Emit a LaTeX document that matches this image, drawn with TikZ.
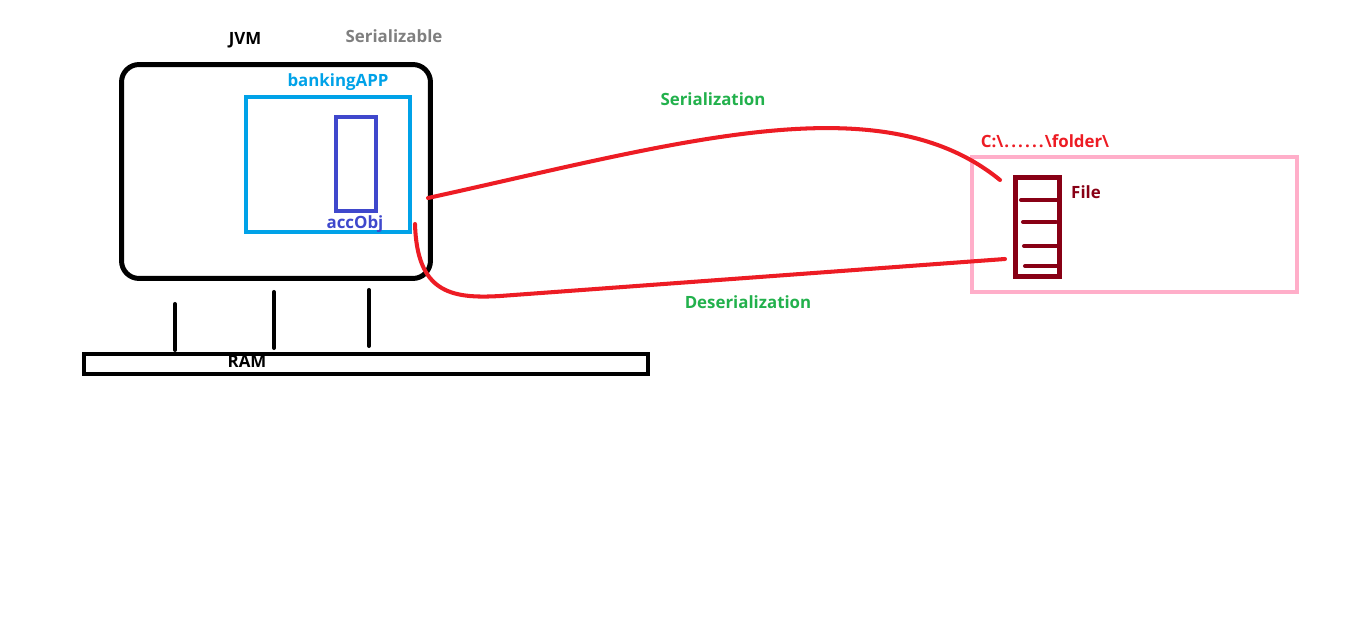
\documentclass[tikz,border=0pt]{standalone}
\usepackage{fontspec}
\setmainfont{Open Sans}
\begin{document}
\begin{tikzpicture}[x=0.02cm,y=-0.02cm,
  lbl/.style={font=\bfseries\fontsize{9.6}{11}\selectfont, inner sep=0pt},
  box/.style={draw, inner sep=0pt, line width=2.3pt},
  redline/.style={draw=cRed, line width=2.3pt, line cap=round},
  leg/.style={line width=2.3pt, line cap=round}]
\definecolor{cRed}{HTML}{ED1C24}
\definecolor{cGreen}{HTML}{22B14C}
\definecolor{cGray}{HTML}{7F7F7F}
\definecolor{cBlue}{HTML}{00A2E8}
\definecolor{cIndigo}{HTML}{3F48CC}
\definecolor{cDark}{HTML}{880015}
\definecolor{cPink}{HTML}{FFAEC9}
\useasboundingbox[fill=white] (0,0) rectangle (1360,628);
% boxes
\node[box, line width=2.83pt, rounded corners=10pt, minimum width=6.18cm, minimum height=4.28cm] (jvm) at (276,171.5) {};
\node[box, draw=cBlue, minimum width=3.28cm, minimum height=2.7cm] (app) at (328,164.5) {};
\node[box, draw=cIndigo, minimum width=0.8cm, minimum height=1.88cm] (obj) at (356,164) {};
\node[box, minimum width=11.28cm, minimum height=0.4cm] (ram) at (366,364) {};
\node[box, draw=cPink, minimum width=6.5cm, minimum height=2.7cm] (folder) at (1134.5,224.5) {};
\node[box, draw=cDark, line width=2.83pt, minimum width=0.88cm, minimum height=1.98cm] (file) at (1037.5,227) {};
% file lines
\foreach \y/\a/\b [count=\i] in {200/1021/1058, 222/1023/1056, 246/1024/1058, 266/1025/1057}{
  \coordinate (fl\i a) at (\a,\y);
  \coordinate (fl\i b) at (\b,\y);
  \draw[cDark, line width=2.3pt, line cap=round] (fl\i a) -- (fl\i b);
}
% legs
\coordinate (l1t) at (175,304); \coordinate (l1b) at (175,350);
\coordinate (l2t) at (274,292); \coordinate (l2b) at (274,348);
\coordinate (l3t) at (369,290); \coordinate (l3b) at (369,346);
\draw[leg] (l1t) -- (l1b);
\draw[leg] (l2t) -- (l2b);
\draw[leg] (l3t) -- (l3b);
% curves
\coordinate (s0) at (428,198);
\coordinate (s1) at (1000,180);
\coordinate (d0) at (415,224);
\coordinate (dm) at (500,296);
\coordinate (d1) at (1005,259);
\draw[redline] (s0) .. controls (678,143) and (880,82) .. (s1);
\draw[redline] (d0) .. controls (417,292) and (450,299) .. (dm) -- (d1);
% labels
\node[lbl] (tjvm) at (245,40) {JVM};
\node[lbl, text=cGray] (tser) at (394,36) {Serializable};
\node[lbl, text=cBlue] (tapp) at (338,82) {bankingAPP};
\node[lbl, text=cIndigo] (tobj) at (355,224) {accObj};
\node[lbl] (tram) at (247,361) {RAM};
\node[lbl, text=cGreen] (tsz) at (713,99) {Serialization};
\node[lbl, text=cGreen] (tdsz) at (748,302) {Deserialization};
\node[lbl, text=cRed] (tpath) at (1045,141) {C:\textbackslash\kern0.6pt.\kern1.2pt.\kern1.2pt.\kern1.2pt.\kern1.2pt.\kern1.2pt.\kern0.6pt\textbackslash folder\textbackslash};
\node[lbl, text=cDark] (tfile) at (1086,192) {File};
\end{tikzpicture}
\end{document}
